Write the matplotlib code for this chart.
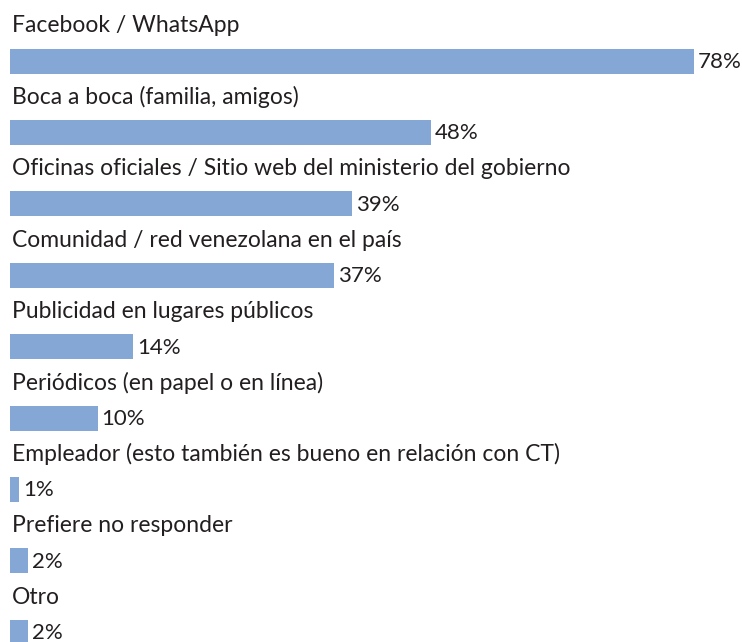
import matplotlib.pyplot as plt

plt.rcParams["font.family"] = ["Lato", "DejaVu Sans"]

labels = [
    "Facebook / WhatsApp",
    "Boca a boca (familia, amigos)",
    "Oficinas oficiales / Sitio web del ministerio del gobierno",
    "Comunidad / red venezolana en el país",
    "Publicidad en lugares públicos",
    "Periódicos (en papel o en línea)",
    "Empleador (esto también es bueno en relación con CT)",
    "Prefiere no responder",
    "Otro",
]
values = [78, 48, 39, 37, 14, 10, 1, 2, 2]

BAR_COLOR = "#84a7d6"
TEXT_COLOR = "#231f20"

W, H = 742, 642
fig = plt.figure(figsize=(W / 100, H / 100), dpi=100)
ax = fig.add_axes([0, 0, 1, 1])

# x in percent, scaled so 78% spans ~684 px from a 10 px margin
px_per_pct = 684 / 78
ax.set_xlim(-10 / px_per_pct, (W - 10) / px_per_pct)
# y in pixels from the top
ax.set_ylim(H, 0)
ax.axis("off")

row_gap = 71.4
first = 61
ys = [first + row_gap * i for i in range(len(values))]

ax.barh(ys, values, height=25, color=BAR_COLOR, left=0)

for y, lab, v in zip(ys, labels, values):
    ax.text(0.2, y - 35, lab, fontsize=16.5, color=TEXT_COLOR,
            va="center", ha="left")
    ax.text(v + 4 / px_per_pct, y + 1, f"{v}%", fontsize=16,
            color=TEXT_COLOR, va="center", ha="left")

fig.savefig("out.png", dpi=100)
